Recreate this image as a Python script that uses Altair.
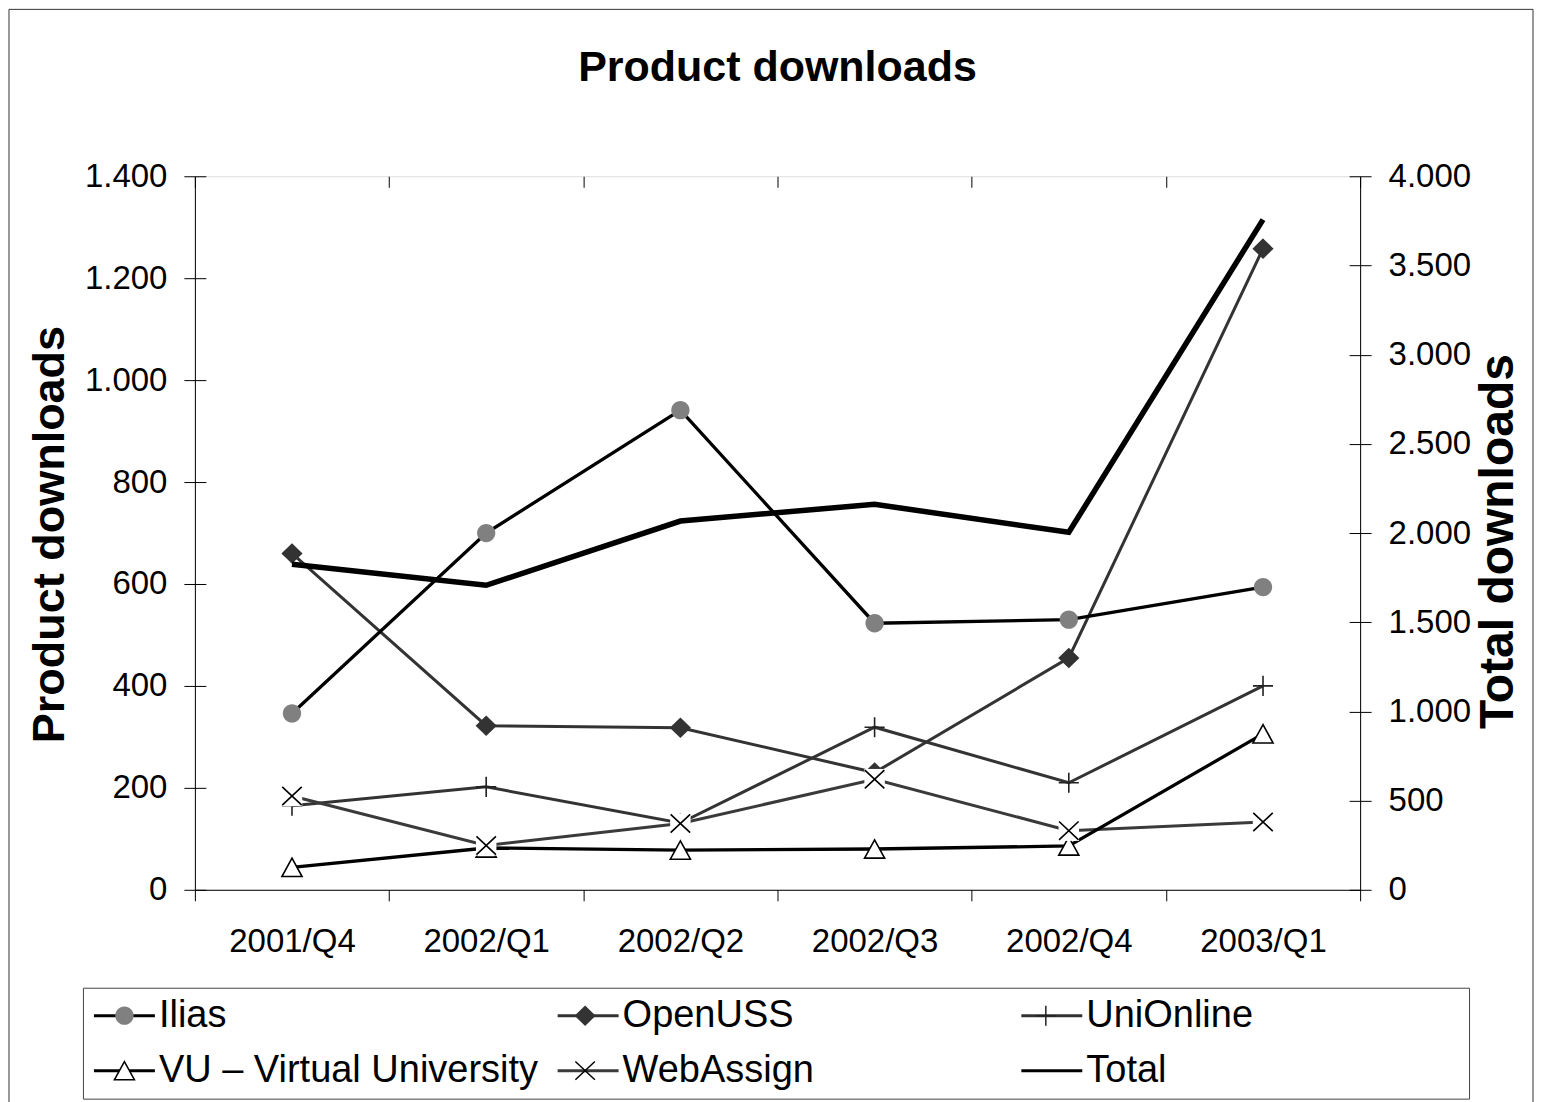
import altair as alt
import pandas as pd

# ---------------- data ----------------
quarters = ["2001/Q4", "2002/Q1", "2002/Q2", "2002/Q3", "2002/Q4", "2003/Q1"]
ilias = [346, 700, 941, 523, 530, 594]
openuss = [660, 322, 318, 230, 455, 1258]
unionline = [165, 202, 131, 319, 210, 400]
vu = [44, 82, 78, 80, 86, 306]
webassign = [184, 87, 130, 217, 116, 133]
total = [1825, 1707, 2067, 2161, 2004, 3757]

series_names = ["Ilias", "OpenUSS", "UniOnline", "VU – Virtual University", "WebAssign", "Total"]
left_ticks = [0, 200, 400, 600, 800, 1000, 1200, 1400]
right_ticks = [0, 500, 1000, 1500, 2000, 2500, 3000, 3500, 4000]

product_values = [ilias, openuss, unionline, vu, webassign]
rows = []
for name, vals in zip(series_names[:5], product_values):
    for q, v in zip(quarters, vals):
        rows.append({"quarter": q, "series": name, "mk": "m:" + name, "value": v})
prod = pd.DataFrame(rows)
tot = pd.DataFrame({"quarter": quarters, "series": ["Total"] * len(quarters), "value": total})
deco = pd.DataFrame({"k": [0]})

# ---------------- styles ----------------
FONT = "Liberation Sans"
line_colors = ["#000000", "#333333", "#333333", "#000000", "#3a3a3a", "#000000"]
B = "M-2,0M2,0"  # keeps symbol bounds equal to the legend line length
marker_paths = [
    B + "M-0.6,0A0.6,0.6 0 1,0 0.6,0A0.6,0.6 0 1,0 -0.6,0Z",
    B + "M0,-0.6L0.62,0L0,0.6L-0.62,0Z",
    B + "M-0.66,0H0.66M0,-0.66V0.66",
    B + "M0,-0.6L0.66,0.6L-0.66,0.6Z",
    B + "M-0.64,-0.6L0.64,0.6M-0.64,0.6L0.64,-0.6",
    B,
]
marker_fill = ["#808080", "#333333", "transparent", "#ffffff", "transparent", "transparent"]
marker_stroke = ["transparent", "#333333", "#222222", "#000000", "#000000", "transparent"]
mk_domain = ["m:" + s for s in series_names]

W, H = 1166, 714
LEG_X, LEG_Y = -112, 812

label_expr = "replace(format(datum.value, ','), ',', '.')"

x_enc = alt.X(
    "quarter:N",
    scale=alt.Scale(type="band", domain=quarters, paddingInner=0, paddingOuter=0),
    axis=alt.Axis(
        title=None, labelAngle=0, tickBand="extent", tickSize=11, tickColor="black",
        labelPadding=25, labelFont=FONT, labelFontSize=33, labelColor="black",
        domainColor="black", grid=True, gridDash=[11, 3000], gridColor="black",
        gridOpacity=1, gridWidth=1,
    ),
)

y_left = alt.Y(
    "value:Q",
    scale=alt.Scale(domain=[0, 1400], nice=False),
    axis=alt.Axis(
        values=left_ticks, labelExpr=label_expr, tickSize=11, tickColor="black",
        labelPadding=17, labelFont=FONT, labelFontSize=33, labelColor="black",
        domainColor="black", grid=True, gridDash=[11, 3000], gridColor="black",
        gridOpacity=1, gridWidth=1,
        title="Product downloads", titleFont=FONT, titleFontSize=45, titleFontWeight="bold",
        titleColor="black", titleAngle=270, titleX=-131, titleY=358,
        titleAlign="center", titleBaseline="alphabetic",
    ),
)

y_right = alt.Y(
    "value:Q",
    scale=alt.Scale(domain=[0, 4000], nice=False),
    axis=alt.Axis(
        orient="right", values=right_ticks, labelExpr=label_expr, tickSize=11,
        tickColor="black", labelPadding=17, labelFont=FONT, labelFontSize=33,
        labelColor="black", domainColor="black", grid=True, gridDash=[11, 3000],
        gridColor="black", gridOpacity=1, gridWidth=1,
        title="Total downloads", titleFont=FONT, titleFontSize=48, titleFontWeight="bold",
        titleColor="black", titleAngle=270, titleX=152, titleY=365,
        titleAlign="center", titleBaseline="alphabetic",
    ),
)

legend_common = dict(
    title=None, orient="none", legendX=LEG_X, legendY=LEG_Y, columns=3,
    direction="horizontal", symbolSize=930, symbolOffset=13.5,
    labelOffset=15.5, labelFont=FONT, labelFontSize=38, labelColor="black",
    labelLimit=1000, columnPadding=13, rowPadding=17, padding=9,
)
# legend of the lines (visible labels)
leg_lines = alt.Legend(symbolType="M-2,0H2", symbolStrokeWidth=3, gridAlign="all",
                       **legend_common)
# legend of the markers, laid exactly over it (labels hidden, draws the frame)
leg_marks = alt.Legend(
    symbolStrokeWidth=1.5, labelOpacity=0, strokeColor="#444444", gridAlign="each",
    labelExpr="'VU – Virtual University'",
    **legend_common)

color_enc = alt.Color("series:N", scale=alt.Scale(domain=series_names, range=line_colors),
                      legend=leg_lines)
shape_enc = alt.Shape("mk:N", scale=alt.Scale(domain=mk_domain, range=marker_paths), legend=leg_marks)
fill_enc = alt.Fill("mk:N", scale=alt.Scale(domain=mk_domain, range=marker_fill), legend=leg_marks)
stroke_enc = alt.Stroke("mk:N", scale=alt.Scale(domain=mk_domain, range=marker_stroke), legend=leg_marks)

base = alt.Chart(prod)

lines_thin = base.transform_filter(
    "datum.series == 'OpenUSS' || datum.series == 'UniOnline' || datum.series == 'WebAssign'"
).mark_line(strokeWidth=3).encode(x=x_enc, y=y_left, color=color_enc, detail="series:N")

lines_thick = base.transform_filter(
    "datum.series == 'Ilias' || datum.series == 'VU – Virtual University'"
).mark_line(strokeWidth=3.3).encode(x=x_enc, y=y_left, color=color_enc, detail="series:N")

markers_main = base.transform_filter("datum.series != 'WebAssign'").mark_point(
    opacity=1, strokeWidth=1.6, size=930
).encode(x=x_enc, y=y_left, shape=shape_enc, fill=fill_enc, stroke=stroke_enc)

web_bg = base.transform_filter("datum.series == 'WebAssign'").mark_square(
    opacity=1, color="white", size=420, strokeWidth=0
).encode(x=x_enc, y=y_left)

markers_web = base.transform_filter("datum.series == 'WebAssign'").mark_point(
    opacity=1, strokeWidth=1.6, size=930
).encode(x=x_enc, y=y_left, shape=shape_enc, fill=fill_enc, stroke=stroke_enc)

frame_c = "#333333"
frame_left = alt.Chart(deco).mark_rule(color=frame_c, strokeWidth=1).encode(
    x=alt.value(-186), y=alt.value(-167), y2=alt.value(950))
frame_top = alt.Chart(deco).mark_rule(color=frame_c, strokeWidth=1).encode(
    x=alt.value(-186), x2=alt.value(1339), y=alt.value(-167))
frame_right = alt.Chart(deco).mark_rule(color=frame_c, strokeWidth=1).encode(
    x=alt.value(1339), y=alt.value(-167), y2=alt.value(950))

products = alt.layer(frame_left, frame_top, frame_right, lines_thin, lines_thick,
                     markers_main, web_bg, markers_web)

total_line = alt.Chart(tot).mark_line(strokeWidth=5.5).encode(
    x=x_enc, y=y_right, color=color_enc)

chart = alt.layer(products, total_line).resolve_scale(y="independent").properties(
    width=W, height=H, padding=0,
    title=alt.TitleParams("Product downloads", font=FONT, fontSize=43, fontWeight="bold",
                          color="black", anchor="middle", frame="group", offset=66, dy=147),
).configure_view(stroke=None).configure(background="white")

chart.save("out.html", embed_options={"renderer": "svg", "actions": False})
